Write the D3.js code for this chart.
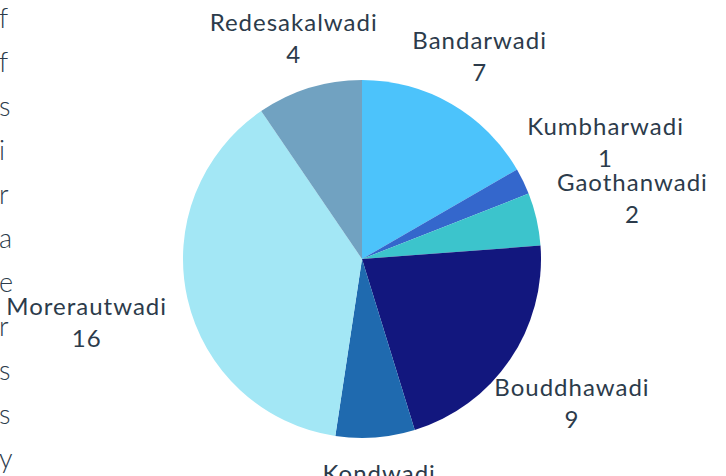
<!DOCTYPE html>
<html>
<head>
<meta charset="utf-8">
<script src="https://cdn.jsdelivr.net/npm/d3@7"></script>
<style>
  html, body { margin: 0; padding: 0; background: #fff; }
  svg { display: block; }
  text { font-family: Lato, "Open Sans", sans-serif; font-weight: 400; fill: #2c3b4b; }
</style>
</head>
<body>
<div id="chart"></div>
<script>
// --- data ---
const villages = ["Bandarwadi", "Kumbharwadi", "Gaothanwadi", "Bouddhawadi", "Kondwadi", "Morerautwadi", "Redesakalwadi"];
const counts = [7, 1, 2, 9, 3, 16, 4];
const sliceColors = ["#4cc3fb", "#3467cc", "#3cc4cc", "#12177e", "#1f6aaf", "#a3e7f5", "#71a2c1"];
// tail ends of a paragraph cut by the left edge
const edgeLetters = ["f", "f", "s", "i", "r", "a", "e", "r", "s", "s", "y"];

const W = 726, H = 476;
const cx = 362, cy = 259, radius = 179;
const labelGap = 200; // distance from centre to nearest edge of label box

const svg = d3.select("#chart").append("svg")
    .attr("width", W)
    .attr("height", H);

svg.append("rect").attr("width", W).attr("height", H).attr("fill", "#fff");

// left edge leftover text
const edgeY = d3.scalePoint().domain(d3.range(edgeLetters.length)).range([28, 468]);
svg.append("g")
    .selectAll("text")
    .data(edgeLetters)
    .join("text")
    .attr("x", -1)
    .attr("y", (d, i) => edgeY(i))
    .style("font-size", "27px")
    .style("font-weight", 300)
    .text(d => d);

// --- pie ---
const data = villages.map((v, i) => ({ name: v, value: counts[i], color: sliceColors[i] }));
const pie = d3.pie().sort(null).value(d => d.value);
const arc = d3.arc().innerRadius(0).outerRadius(radius);
const arcs = pie(data);

const g = svg.append("g").attr("transform", `translate(${cx},${cy})`);

g.selectAll("path")
    .data(arcs)
    .join("path")
    .attr("d", arc)
    .attr("fill", d => d.data.color);

// --- labels (outside end) ---
const lineH = 32;
const labels = g.selectAll("g.lbl")
    .data(arcs)
    .join("g")
    .attr("class", "lbl");

const txt = labels.append("text")
    .attr("text-anchor", "middle")
    .style("font-size", "24px")
    .style("letter-spacing", "1px");
txt.append("tspan").attr("x", 0).attr("y", 0).text(d => d.data.name);
txt.append("tspan").attr("x", 0).attr("y", lineH).text(d => d.data.value);

labels.each(function (d) {
    const b = this.getBBox();
    const mid = (d.startAngle + d.endAngle) / 2;
    const s = Math.sin(mid), c = -Math.cos(mid);
    // distance from box centre to its edge along the ray
    const ex = Math.abs(s) > 1e-6 ? (b.width / 2) / Math.abs(s) : Infinity;
    const ey = Math.abs(c) > 1e-6 ? (b.height / 2) / Math.abs(c) : Infinity;
    const dist = labelGap + Math.min(ex, ey);
    const px = dist * s, py = dist * c;
    // shift so box centre lands on (px, py)
    const bx = b.x + b.width / 2, by = b.y + b.height / 2;
    d3.select(this).attr("transform", `translate(${px - bx},${py - by})`);
});
</script>
</body>
</html>
